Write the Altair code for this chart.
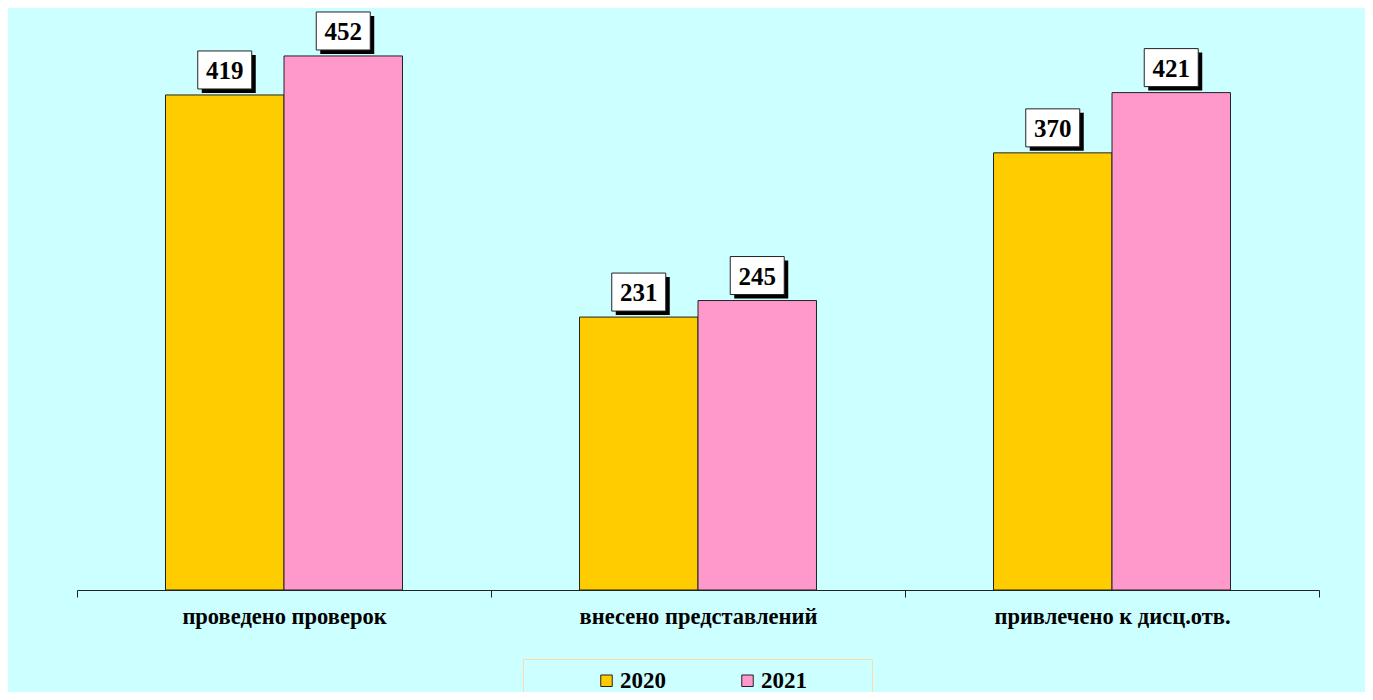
import altair as alt
import pandas as pd

categories = ["проведено проверок", "внесено представлений", "привлечено к дисц.отв."]
years = ["2020", "2021"]
values_2020 = [419, 231, 370]
values_2021 = [452, 245, 421]

rows = []
for i, c in enumerate(categories):
    rows.append({"cat": c, "year": years[0], "value": values_2020[i]})
    rows.append({"cat": c, "year": years[1], "value": values_2021[i]})
df = pd.DataFrame(rows)

SERIF = "Liberation Serif"

x = alt.X("cat:N", sort=categories, title=None,
          scale=alt.Scale(paddingInner=0, paddingOuter=0),
          axis=alt.Axis(labelAngle=0, tickBand="extent", domainColor="#222222",
                        tickColor="#222222", tickSize=7, labelPadding=8,
                        labelFont=SERIF, labelFontWeight="bold", labelFontSize=22.5,
                        labelColor="black", labelLimit=0))
xo = alt.XOffset("year:N", sort=years, scale=alt.Scale(paddingInner=0, paddingOuter=0.747))
y = alt.Y("value:Q", scale=alt.Scale(domain=[0, 492.6], nice=False, zero=True), axis=None)

color = alt.Color("year:N", sort=years,
                  scale=alt.Scale(domain=years, range=["#FFCC00", "#FF99CC"]),
                  legend=alt.Legend(title="\u00a0", titleOrient="right", titlePadding=55,
                                    titleFontSize=4, titleColor="#CCFFFF",
                                    orient="none", legendX=446, legendY=651,
                                    direction="horizontal", strokeColor="#FFD9A8",
                                    padding=10, symbolOffset=62, symbolType="square",
                                    symbolSize=132, symbolStrokeColor="#222222",
                                    symbolStrokeWidth=1, labelFont=SERIF,
                                    labelFontWeight="bold", labelFontSize=23,
                                    labelColor="black", columnPadding=8, labelOffset=2,
                                    labelLimit=0))

bars = alt.Chart(df).mark_bar(stroke="#222222", strokeWidth=1).encode(
    x=x, xOffset=xo, y=y, color=color)

shadow_path = "M-0.852,-1.4815L1.148,-1.4815L1.148,-0.0741L-0.852,-0.0741Z"
box_path = "M-1,-1.6296L1,-1.6296L1,-0.2222L-1,-0.2222Z"

shadow = alt.Chart(df).mark_point(shape=shadow_path, size=2916, filled=True,
                                  fill="black", opacity=1).encode(
    x=x, xOffset=xo, y=y)
box = alt.Chart(df).mark_point(shape=box_path, size=2916, filled=True,
                               fill="white", stroke="#222222", strokeWidth=1,
                               opacity=1).encode(x=x, xOffset=xo, y=y)
text = alt.Chart(df).mark_text(font=SERIF, fontWeight="bold", fontSize=25,
                               baseline="middle", dy=-24, color="black").encode(
    x=x, xOffset=xo, y=y, text="value:Q")

chart = alt.layer(bars, shadow, box, text).properties(
    width=1242, height=582,
    autosize=alt.AutoSizeParams(type="none"),
    padding={"left": 69, "top": 0, "right": 46, "bottom": 102},
    background="#CCFFFF",
).configure_view(stroke=None)

chart.save("out.html", embed_options={"renderer": "svg", "actions": False})
